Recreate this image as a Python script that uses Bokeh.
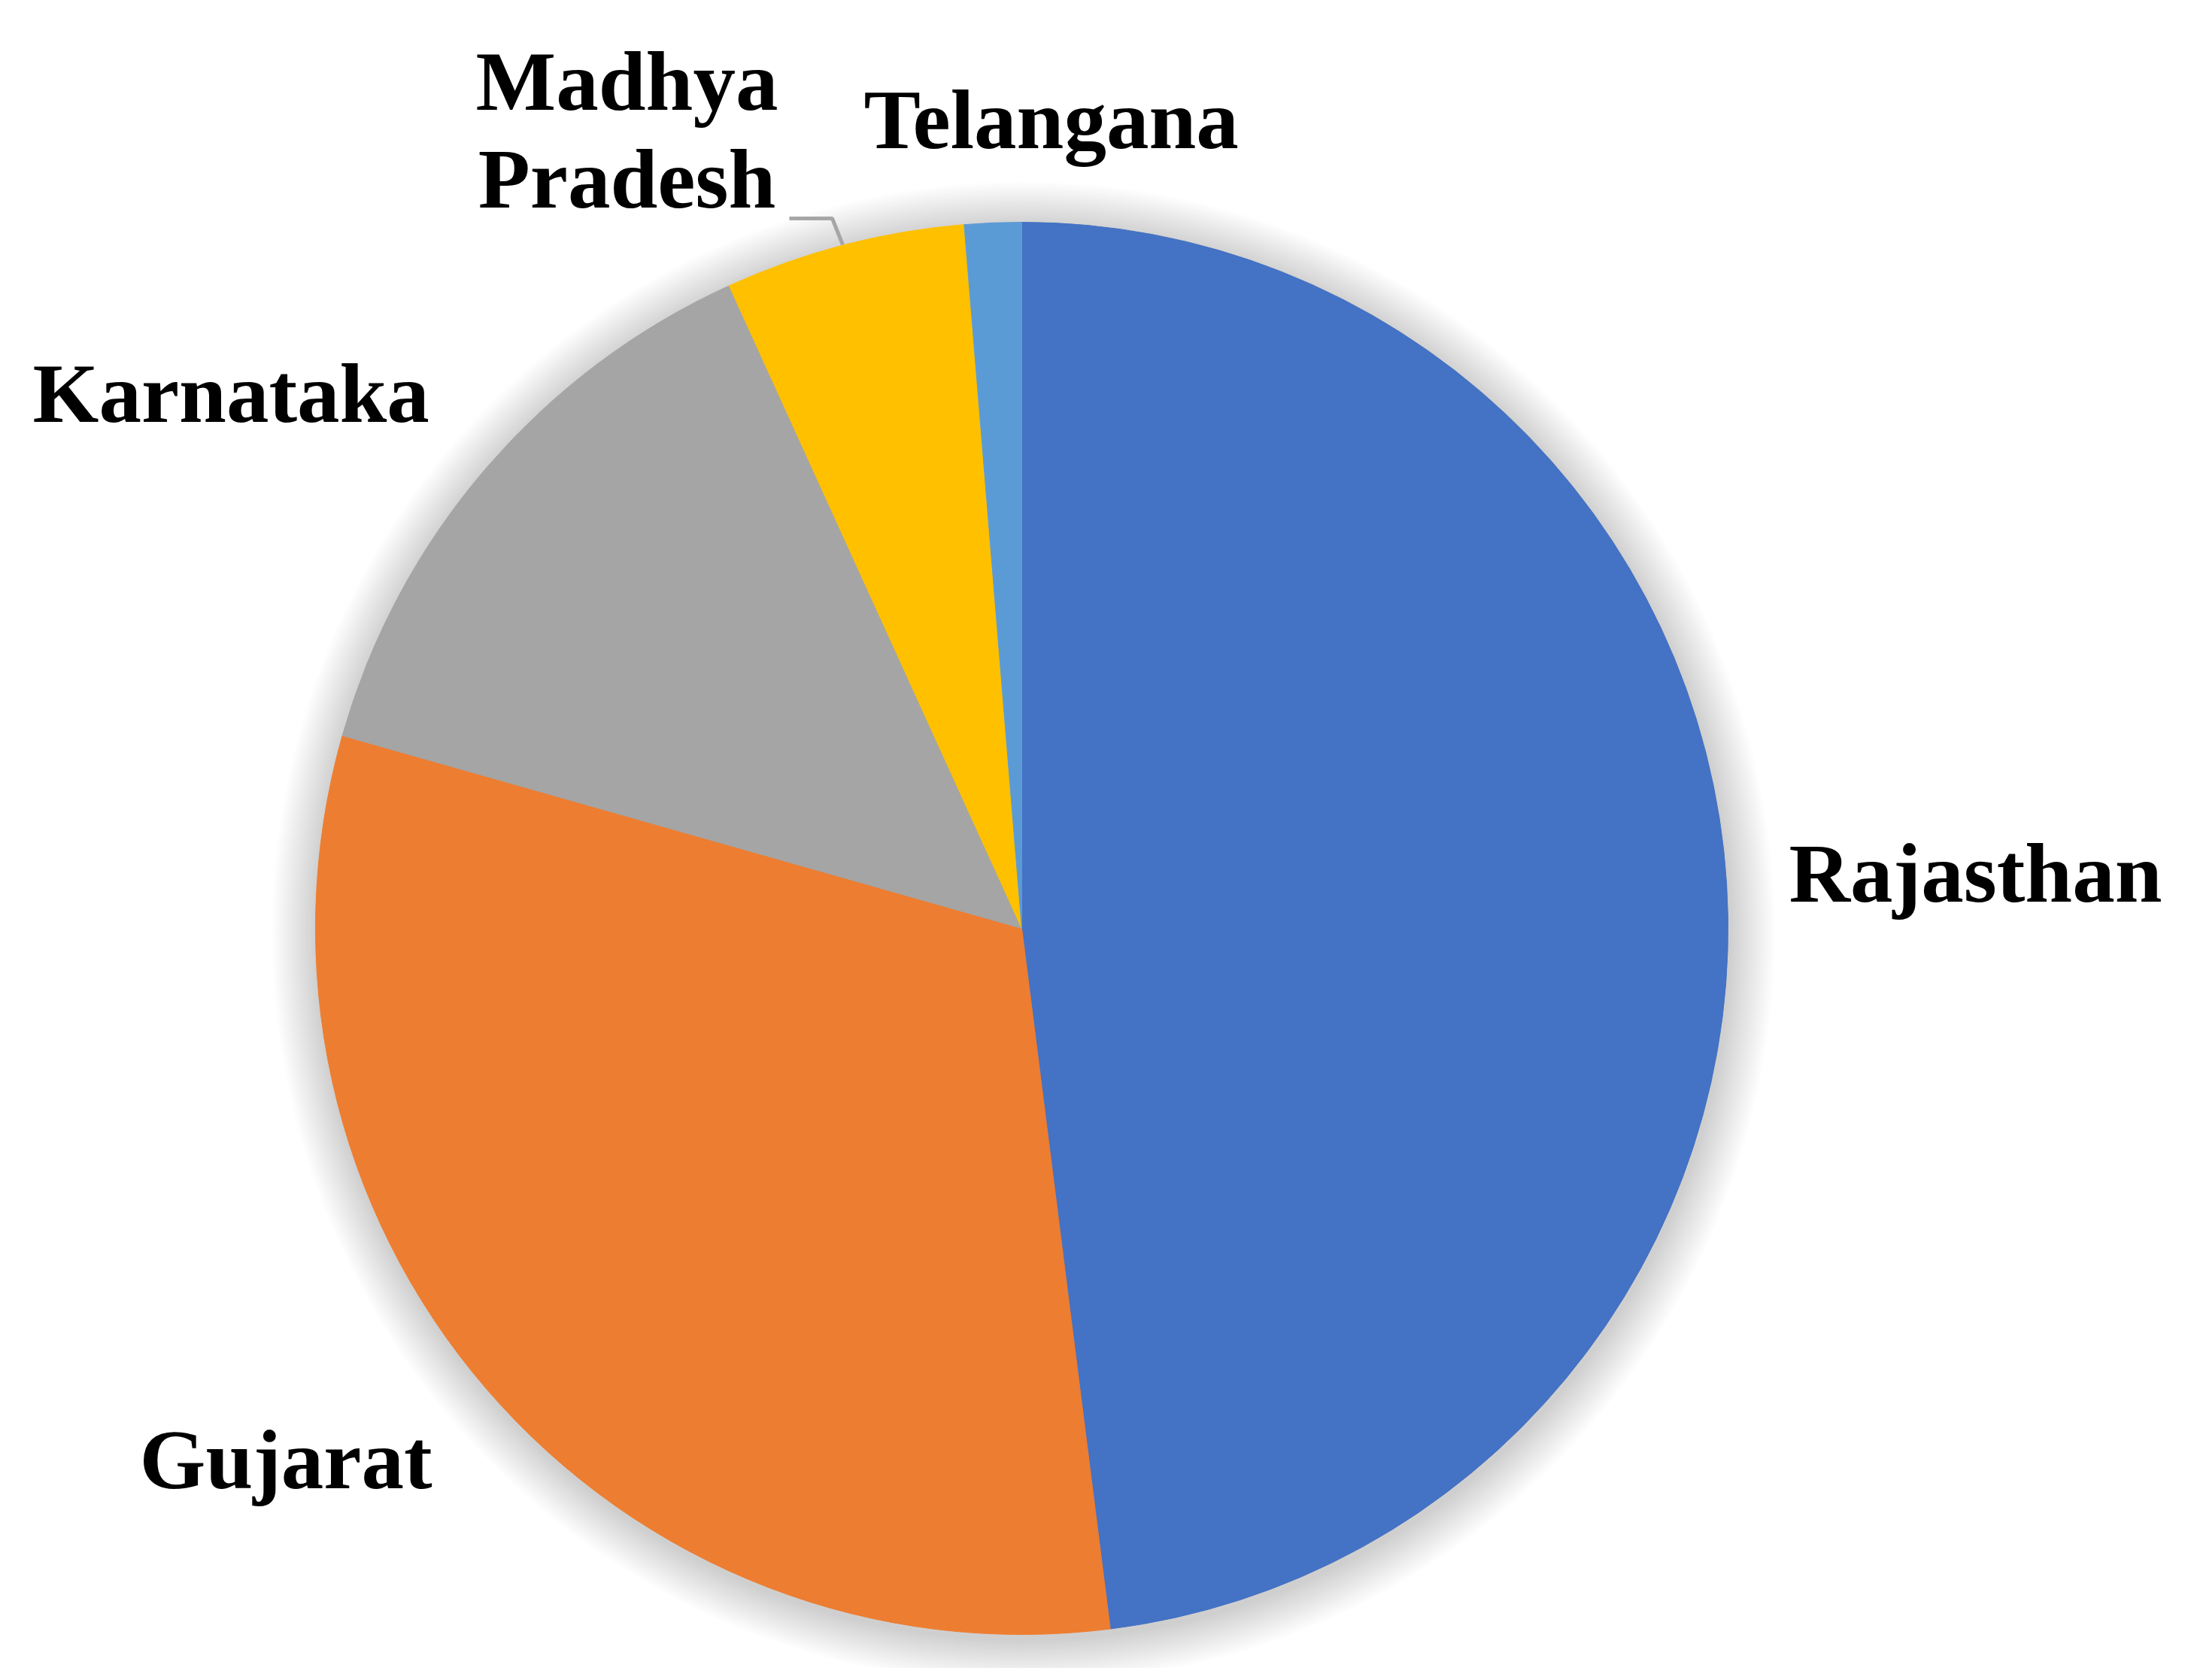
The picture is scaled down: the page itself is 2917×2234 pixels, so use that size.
import math
from bokeh.plotting import figure
from bokeh.models import Range1d, ColumnDataSource
from bokeh.core.properties import value
from bokeh.embed import file_html
from bokeh.resources import INLINE

# Data (shares in percent, clockwise from 12 o'clock)
states = ["Rajasthan", "Gujarat", "Karnataka", "Madhya Pradesh", "Telangana"]
shares = [48.0, 31.4, 13.8, 5.5, 1.3]
colors = ["#4472C4", "#ED7D31", "#A5A5A5", "#FFC000", "#5B9BD5"]

# Label layout (image pixel coordinates: left x / baseline y)
label_lines = [["Rajasthan"], ["Gujarat"], ["Karnataka"], ["Madhya", "Pradesh"], ["Telangana"]]
label_x = [2378, 185, 43, 833, 1148]
label_y = [1160, 1940, 522, 107, 158]
label_align = ["left", "left", "left", "center", "left"]
line_step = 130

W, H = 2917, 2234
p = figure(width=2901, height=2218, x_range=Range1d(0, 2901), y_range=Range1d(H - 2218, H),
           output_backend="svg", toolbar_location=None, min_border=0)
p.axis.visible = False
p.grid.visible = False
p.outline_line_color = None
p.background_fill_color = "white"

cx, cy_img, R = 1358, 1234, 939
cy = H - cy_img

# soft shadow
for k in range(24, 0, -1):
    p.circle(x=cx + 2, y=cy - 6, radius=R + 2.5 * k, fill_color="black", fill_alpha=0.0075,
             line_color=None)

total = sum(shares)
starts, ends = [], []
cum = 0.0
for s in shares:
    starts.append(math.pi / 2 - 2 * math.pi * cum / total)
    cum += s
    ends.append(math.pi / 2 - 2 * math.pi * cum / total)

src = ColumnDataSource(dict(start=starts, end=ends, color=colors, state=states))
p.wedge(x=cx, y=cy, radius=R, start_angle="start", end_angle="end", direction="clock",
        fill_color="color", line_color="color", line_width=1, source=src)

# leader line for Madhya Pradesh
lx = [1049, 1106, 1120]
ly = [290, 290, 325]
p.line(x=lx, y=[H - v for v in ly], line_color="#A6A6A6", line_width=5)

tx, ty, tt, ta = [], [], [], []
for lines, x0, y0, al in zip(label_lines, label_x, label_y, label_align):
    for i, t in enumerate(lines):
        tx.append(x0)
        ty.append(H - (y0 + i * line_step))
        tt.append(t)
        ta.append(al)
tsrc = ColumnDataSource(dict(x=tx, y=ty, text=tt, align=ta))
p.text(x="x", y="y", text="text", text_align="align", text_baseline="alphabetic",
       text_font=value("Liberation Serif"), text_font_style="bold", text_font_size="113px",
       text_color="black", source=tsrc)

open("out.html", "w").write(file_html(p, INLINE))
